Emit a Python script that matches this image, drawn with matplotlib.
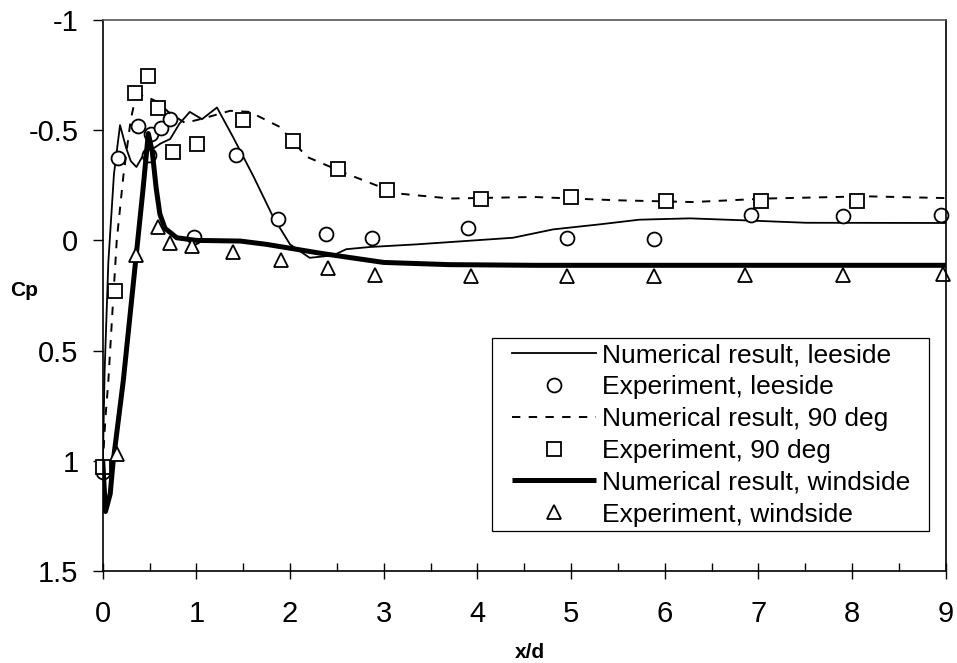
"""Cp distribution along x/d: numerical results vs experiment."""
import matplotlib; matplotlib.use("Agg")
import matplotlib.pyplot as plt
from matplotlib.patches import Rectangle
from matplotlib.ticker import MultipleLocator

plt.rcParams["font.family"] = ["Liberation Sans", "DejaVu Sans"]

# numerical result, leeside
lee_x = [0, 0.02, 0.06, 0.12, 0.185, 0.25, 0.3, 0.36, 0.45, 0.55, 0.62, 0.72, 0.82,
         0.93, 1.06, 1.22, 1.39, 1.61, 1.82, 2.0, 2.21, 2.46, 2.6, 2.85, 3.35, 4.38,
         4.81, 5.31, 5.73, 6.27, 6.91, 7.51, 9.0]
lee_y = [1.05, 0.6, 0.1, -0.3, -0.523, -0.42, -0.36, -0.333, -0.40, -0.42, -0.44,
         -0.46, -0.53, -0.583, -0.55, -0.603, -0.47, -0.29, -0.106, 0.018, 0.079,
         0.068, 0.04, 0.03, 0.018, -0.012, -0.05, -0.073, -0.094, -0.10, -0.09,
         -0.08, -0.079]
# experiment, leeside
lee_ex_x = [0, 0.167, 0.373, 0.49, 0.52, 0.62, 0.72, 0.97, 1.42, 1.87, 2.38, 2.87,
            3.90, 4.96, 5.89, 6.92, 7.90, 8.95]
lee_ex_y = [1.05, -0.376, -0.518, -0.386, -0.485, -0.512, -0.549, -0.015, -0.386,
            -0.099, -0.027, -0.012, -0.058, -0.012, -0.005, -0.117, -0.109, -0.114]

# numerical result, 90 deg
d90_x = [0, 0.03, 0.06, 0.1, 0.15, 0.22, 0.3, 0.345, 0.43, 0.576, 0.72, 0.88, 1.07,
         1.36, 1.57, 1.89, 2.18, 2.6, 2.92, 3.17, 3.71, 4.6, 5.49, 6.3, 7.09, 8.15, 9.0]
d90_y = [1.02, 0.8, 0.64, 0.35, 0.0, -0.29, -0.55, -0.636, -0.66, -0.63, -0.576,
         -0.533, -0.553, -0.588, -0.583, -0.515, -0.379, -0.303, -0.25, -0.212,
         -0.19, -0.197, -0.182, -0.174, -0.19, -0.2, -0.192]
# experiment, 90 deg
sq_x = [0, 0.13, 0.345, 0.487, 0.594, 0.747, 1.003, 1.50, 2.03, 2.51, 3.03, 4.04,
        5.0, 6.01, 7.03, 8.05]
sq_y = [1.03, 0.23, -0.67, -0.745, -0.60, -0.40, -0.436, -0.545, -0.45, -0.326,
        -0.23, -0.19, -0.197, -0.177, -0.177, -0.177]

# numerical result, windside
wind_x = [0, 0.03, 0.08, 0.11, 0.22, 0.35, 0.43, 0.487, 0.53, 0.57, 0.61, 0.665,
          0.79, 1.0, 1.47, 1.75, 2.35, 3.0, 3.7, 4.6, 9.0]
wind_y = [1.0, 1.23, 1.15, 1.01, 0.636, 0.10, -0.23, -0.485, -0.40, -0.24, -0.12,
          -0.055, -0.012, 0.0, 0.003, 0.018, 0.06, 0.1, 0.11, 0.113, 0.113]
# experiment, windside
tri_x = [0.15, 0.355, 0.59, 0.72, 0.957, 1.39, 1.90, 2.40, 2.91, 3.93, 4.96, 5.89,
         6.86, 7.90, 8.97]
tri_y = [0.97, 0.068, -0.06, 0.012, 0.026, 0.053, 0.088, 0.125, 0.155, 0.162, 0.162,
         0.162, 0.159, 0.155, 0.151]


def main():
    fig = plt.figure(figsize=(9.57, 6.63), dpi=100)
    ax = fig.add_axes([102.7 / 957, 1 - 571 / 663, 843 / 957, 551 / 663])

    mk = dict(ls="none", mfc="white", mec="black", mew=1.3, ms=10, clip_on=False)
    ax.plot(lee_x, lee_y, color="black", lw=1.3, label="Numerical result, leeside")
    ax.plot(lee_ex_x, lee_ex_y, marker="o", label="Experiment, leeside", **mk)
    ax.plot(d90_x, d90_y, color="black", lw=1.4, dashes=(4.3, 4.3),
            label="Numerical result, 90 deg")
    ax.plot(sq_x, sq_y, marker="s", label="Experiment, 90 deg", **mk)
    ax.plot(wind_x, wind_y, color="black", lw=3.6, solid_capstyle="butt",
            label="Numerical result, windside")
    ax.plot(tri_x, tri_y, marker="^", label="Experiment, windside", **mk)

    ax.set_xlim(0, 9)
    ax.set_ylim(1.5, -1)
    ax.xaxis.set_major_locator(MultipleLocator(1))
    ax.xaxis.set_minor_locator(MultipleLocator(0.5))
    ax.set_yticks([-1, -0.5, 0, 0.5, 1, 1.5])
    ax.set_yticklabels(["-1", "-0.5", "0", "0.5", "1", "1.5"])
    ax.tick_params(axis="x", which="major", direction="inout", length=12, width=1,
                   labelsize=21, pad=15)
    ax.tick_params(axis="x", which="minor", direction="in", length=6, width=1)
    ax.tick_params(axis="y", direction="out", length=7.5, width=1, labelsize=21, pad=10)
    for side in ("left", "bottom", "right"):
        ax.spines[side].set_color("black")
        ax.spines[side].set_linewidth(1.2)
    ax.spines["top"].set_color("#555555")
    ax.spines["top"].set_linewidth(1.2)

    fig.text(24.5 / 957, 1 - 291 / 663, "Cp", fontsize=15, fontweight="bold",
             ha="center", va="center")
    fig.text(530 / 957, 1 - 652 / 663, "x/d", fontsize=15, fontweight="bold",
             ha="center", va="center")

    leg = ax.legend(loc="upper left", bbox_to_anchor=(511.7 / 957, 1 - 343 / 663),
                    bbox_transform=fig.transFigure, frameon=False, fontsize=19,
                    handlelength=3.18, handletextpad=0.24, labelspacing=0.3,
                    borderpad=0, borderaxespad=0, numpoints=1)
    for h in leg.legend_handles:
        h.set_clip_on(False)
    fig.patches.append(Rectangle((492 / 957, 1 - 531 / 663), 437 / 957, 193 / 663,
                                 transform=fig.transFigure, fill=False,
                                 ec="black", lw=0.9, zorder=5))

    fig.savefig("out.png", dpi=100)
    plt.close(fig)


if __name__ == "__main__":
    main()
